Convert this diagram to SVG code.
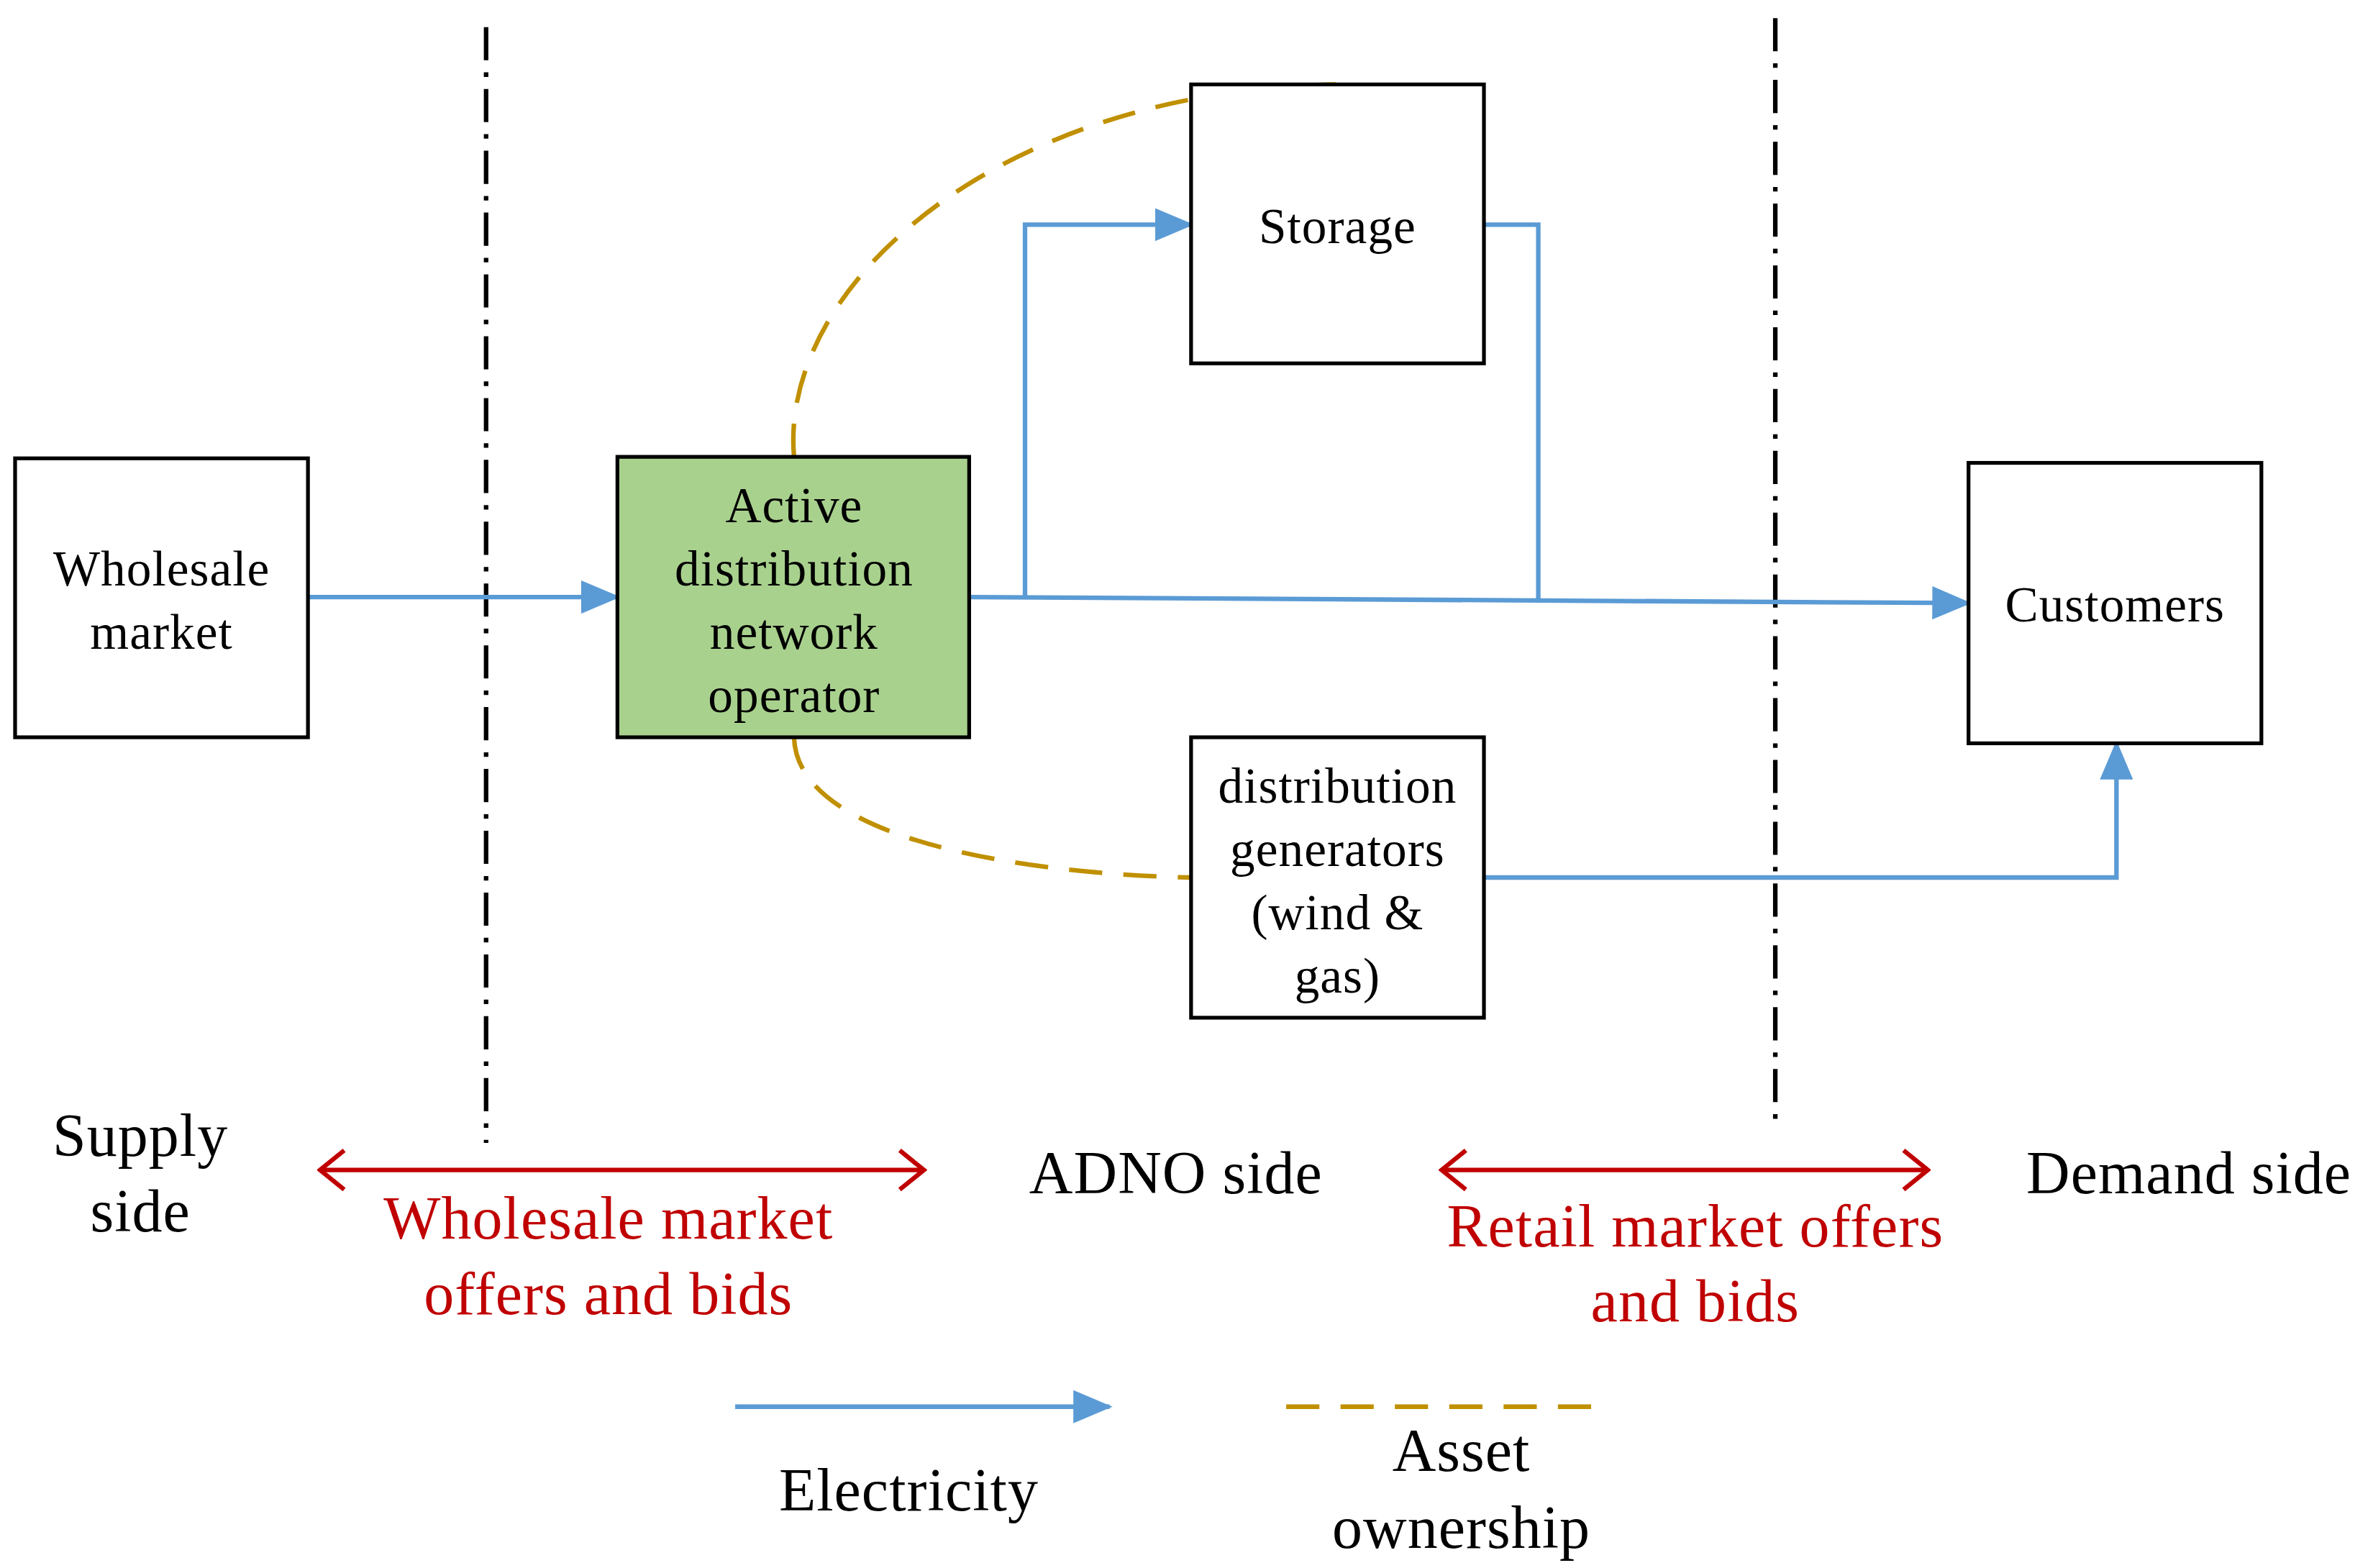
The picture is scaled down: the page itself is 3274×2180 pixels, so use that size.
<svg xmlns="http://www.w3.org/2000/svg" width="3274" height="2180" viewBox="0 0 3274 2180">
<style>
.box{fill:#fff;stroke:#000;stroke-width:2.5}
.t{font-family:"Liberation Serif",serif;font-size:33px;text-anchor:middle;dominant-baseline:central;fill:#000;letter-spacing:0.5px}
.b{font-size:40px}
.r{fill:#c00000}
.el{fill:none;stroke:#5b9bd5;stroke-width:3}
.own{fill:none;stroke:#c09000;stroke-width:3;stroke-dasharray:22 14}
.dd{fill:none;stroke:#000;stroke-width:3;stroke-dasharray:22 8 3 8}
.red{fill:none;stroke:#c00000;stroke-width:3}
</style>
<defs>
<marker id="ba" markerUnits="userSpaceOnUse" markerWidth="26" markerHeight="22" refX="24" refY="11" orient="auto"><path d="M0,0 L26,11 L0,22 Z" fill="#5b9bd5"/></marker>
<marker id="ra" markerUnits="userSpaceOnUse" markerWidth="20" markerHeight="30" refX="18" refY="15" orient="auto-start-reverse"><path d="M2,2 L18,15 L2,28" fill="none" stroke="#c00000" stroke-width="3"/></marker>
</defs>
<rect width="3274" height="2180" fill="#fff"/>
<g transform="scale(2.0987 2.0962)">
<g id="dividers">
<line class="dd" x1="322" y1="18" x2="322" y2="758"/>
<line class="dd" x1="1176" y1="12" x2="1176" y2="748"/>
</g>
<g id="connectors">
<path class="el" d="M204,396 L409,396" marker-end="url(#ba)"/>
<path class="el" d="M642,396 L1304,400" marker-end="url(#ba)"/>
<path class="el" d="M679,396 L679,149 L789,149" marker-end="url(#ba)"/>
<path class="el" d="M983,149 L1019,149 L1019,399"/>
<path class="el" d="M983,582 L1402,582 L1402,493" marker-end="url(#ba)"/>
<path class="own" d="M526,303 C516,190 660,60 885,56"/>
<path class="own" d="M526,489 C528,560 690,580 789,582"/>
<path class="red" d="M212,776 L612,776" marker-start="url(#ra)" marker-end="url(#ra)"/>
<path class="red" d="M955,776 L1277,776" marker-start="url(#ra)" marker-end="url(#ra)"/>
</g>
<g id="wholesale"><rect class="box" x="10" y="304" width="194" height="185"/>
<text class="t" x="107" y="377">Wholesale</text><text class="t" x="107" y="419">market</text></g>
<g id="adno"><rect class="box" x="409" y="303" width="233" height="186" style="fill:#a9d18e"/>
<text class="t" x="526" y="335">Active</text><text class="t" x="526" y="377">distribution</text><text class="t" x="526" y="419">network</text><text class="t" x="526" y="461">operator</text></g>
<g id="storage"><rect class="box" x="789" y="56" width="194" height="185"/>
<text class="t" x="886" y="150">Storage</text></g>
<g id="customers"><rect class="box" x="1304" y="307" width="194" height="186"/>
<text class="t" x="1401" y="401">Customers</text></g>
<g id="dg"><rect class="box" x="789" y="489" width="194" height="186"/>
<text class="t" x="886" y="521">distribution</text><text class="t" x="886" y="563">generators</text><text class="t" x="886" y="605">(wind &amp;</text><text class="t" x="886" y="647">gas)</text></g>
<g id="labels">
<text class="t b" x="93" y="753">Supply</text><text class="t b" x="93" y="803">side</text>
<text class="t b r" x="403" y="808">Wholesale market</text><text class="t b r" x="403" y="858">offers and bids</text>
<text class="t b" x="779" y="778">ADNO side</text>
<text class="t b r" x="1123" y="813">Retail market offers</text><text class="t b r" x="1123" y="863">and bids</text>
<text class="t b" x="1450" y="778">Demand side</text>
</g>
<g id="legend">
<path class="el" d="M487,933 L735,933" marker-end="url(#ba)"/>
<path class="own" d="M852,933 L1068,933"/>
<text class="t b" x="602" y="988">Electricity</text>
<text class="t b" x="968" y="962">Asset</text><text class="t b" x="968" y="1013">ownership</text>
</g>
</g>
</svg>
